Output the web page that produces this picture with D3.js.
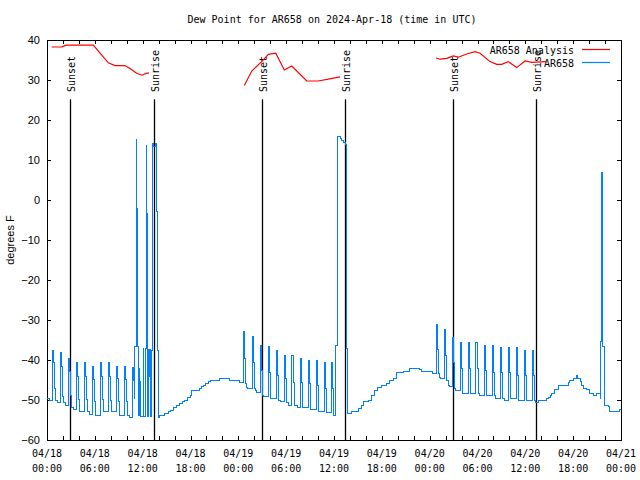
<!DOCTYPE html>
<html><head><meta charset="utf-8">
<script src="https://cdn.jsdelivr.net/npm/d3@7"></script>
<style>body{margin:0;background:#fff}svg{display:block}</style>
</head><body>
<script>
const titleText = "Dew Point for AR658 on 2024-Apr-18 (time in UTC)";
const yLabelText = "degrees F";
const yTicks = [40,30,20,10,0,-10,-20,-30,-40,-50,-60];
const xLabelHours = [0,6,12,18,24,30,36,42,48,54,60,66,72];
const xLabelDates = ["04/18","04/18","04/18","04/18","04/19","04/19","04/19","04/19","04/20","04/20","04/20","04/20","04/21"];
const xLabelTimes = ["00:00","06:00","12:00","18:00","00:00","06:00","12:00","18:00","00:00","06:00","12:00","18:00","00:00"];
const sunHours = [2.93,13.46,27.0,37.42,50.97,61.38];
const sunLabels = ["Sunset","Sunrise","Sunset","Sunrise","Sunset","Sunrise"];
const legendNames = ["AR658 Analysis","AR658"];

// hours since 2024-04-18 00:00 UTC, value in deg F
const analysisDay1 = [[0.59,38.25],[1.84,38.3],[2.47,38.7],[5.81,38.7],[7.69,34.3],[8.53,33.6],[9.78,33.6],[10.41,32.9],[11.25,31.7],[11.88,31.2],[12.51,31.7],[12.79,31.7]];
const analysisDay2 = [[24.75,28.6],[25.68,32.25],[26.93,34.6],[27.76,36.4],[28.69,36.7],[29.77,32.5],[30.7,33.5],[32.58,29.75],[34.03,29.75],[35.29,30.2],[36.75,30.8]];
const analysisDay3 = [[48.8,35.5],[49.3,35.2],[50.14,35.4],[50.97,36],[51.6,35.7],[52.65,36.5],[53.69,37.1],[54.32,36.7],[55.57,34.6],[56.41,33.9],[57.04,33.9],[57.86,34.6],[58.92,33.1],[59.96,34.75],[60.8,34.4],[62.6,34.6]];

const dewPoint = [
[0,-49.6],[0.3,-50],
[0.67,-37.5],[0.8,-40.7],[0.95,-47.1],[1.1,-50],[1.3,-50.6],
[1.67,-38.2],[1.8,-41.5],[1.95,-49.2],[2.1,-50.6],[2.3,-51.25],
[2.68,-39.6],[2.81,-42.75],[2.95,-48.75],[3.1,-51.8],[3.3,-52.3],
[3.64,-40.7],[3.77,-44],[3.9,-49.8],[4.05,-52.9],
[4.68,-40.7],[4.81,-44],[4.95,-49.8],[5.1,-52.9],[5.3,-53.6],
[5.69,-41.5],[5.82,-44.8],[5.95,-50.4],[6.1,-53.75],
[6.69,-40.7],[6.82,-44],[6.95,-49.8],[7.1,-52.9],
[7.69,-40.7],[7.82,-44],[7.95,-50],[8.1,-52.9],
[8.7,-41.5],[8.83,-44.7],[8.96,-50.4],[9.1,-53.75],
[9.7,-41.5],[9.83,-44.8],[9.96,-50.4],[10.1,-53.75],[10.3,-54.3],
[10.7,-41.9],[10.83,-45],[10.93,-49.6],[11.0,-36.7],[11.18,15.25],[11.25,-2.1],[11.32,-36.7],[11.45,-53.75],
[11.58,-42],[11.66,-45.4],[11.75,-54.2],
[12.05,-37],[12.12,-54.2],
[12.3,-37],[12.42,13.75],[12.49,-3.3],[12.56,-37],[12.63,-54.2],
[12.72,-37.3],[12.8,-44],[12.88,-37.3],[12.98,-54],
[13.12,-37.5],[13.22,14.2],[13.35,13.3],[13.62,14.2],[13.7,-2.9],[13.8,-37.5],[13.95,-54.3],
[14.17,-53.75],[14.7,-53.3],[15.2,-52.9],[15.5,-52.5],[15.85,-51.8],[16.3,-51.25],[16.68,-50.8],[17.0,-50.4],[17.31,-50],[17.6,-49.4],[17.94,-48.75],[18.15,-47.5],[19.19,-47.1],[19.4,-46.7],[19.61,-46.25],[19.9,-45.8],[20.2,-45.4],[20.45,-45],[21.7,-44.6],[22.9,-45],[24.2,-45.7],
[24.63,-32.9],[24.76,-39.6],[24.9,-45.8],[25.05,-46.8],[25.2,-47.1],
[25.72,-34.2],[25.85,-40.7],[25.98,-47.1],[26.1,-47.5],[26.3,-48.2],
[26.76,-36.25],[26.89,-42.5],[27.02,-48.75],[27.15,-49.2],
[27.77,-36.7],[27.9,-43.2],[28.03,-49.6],
[28.77,-37.5],[28.9,-43.75],[29.03,-50],[29.3,-50.4],
[29.73,-38.75],[29.86,-44.6],[29.99,-50.7],[30.3,-51.25],
[30.73,-38.75],[30.86,-45.7],[30.99,-51.25],[31.4,-51.8],
[31.78,-39.6],[31.91,-45.7],[32.04,-51.8],
[32.78,-40],[32.91,-45.8],[33.04,-52.3],
[33.78,-40],[33.91,-46.25],[34.04,-52.75],
[34.83,-40.7],[34.96,-47.1],[35.09,-53.2],
[35.71,-40.7],[35.84,-47.1],[35.97,-53.75],
[36.25,-36.25],[36.38,-2],[36.45,15.8],[36.85,15.3],[37.0,14.8],[37.15,14.3],[37.45,14.0],[37.55,-1.5],[37.62,-37.1],[37.75,-53.3],
[38.2,-52.9],[39.05,-52.1],[39.4,-51.25],[39.68,-50.4],[40.31,-50],[40.7,-48.75],[41.14,-47.5],[41.5,-46.9],[41.98,-46.25],[42.61,-45.8],[43.0,-45.2],[43.44,-44.6],[43.86,-43.2],[44.69,-42.9],[45.53,-42.1],[46.7,-42.3],[47.0,-42.75],[48.4,-43.3],
[48.8,-31],[48.93,-37.3],[49.06,-43.3],[49.2,-44.4],[49.4,-44.6],
[49.8,-32.3],[49.93,-38.75],[50.06,-45],[50.3,-46.25],[50.5,-46.7],
[50.84,-34.3],[50.97,-40.7],[51.1,-47.1],[51.3,-47.5],
[51.81,-35.6],[51.94,-42.1],[52.07,-48.3],
[52.85,-35.6],[52.98,-42.1],[53.11,-48.3],
[53.81,-35.6],[53.94,-42.1],[54.07,-48.3],[54.3,-48.75],
[54.85,-36.25],[54.98,-42.5],[55.11,-48.9],
[55.86,-36.25],[55.99,-43.2],[56.12,-48.9],[56.3,-49.6],
[56.86,-36.8],[56.99,-43.2],[57.12,-49.6],[57.4,-50],
[57.86,-36.8],[57.99,-43.2],[58.12,-49.6],
[58.87,-36.8],[59.0,-43.75],[59.13,-50],
[59.87,-37.5],[60.0,-43.75],[60.13,-50],
[60.88,-37.5],[61.01,-43.75],[61.14,-50],[61.3,-50.7],[61.63,-50],
[62.6,-49.6],[62.89,-49.3],[63.1,-48.75],[63.31,-48.3],[63.7,-47.3],[64.14,-46.25],[65.4,-45.6],[65.6,-45],[66.02,-44.6],[66.44,-43.75],[66.6,-44.6],[66.86,-45.4],[67.1,-46.25],[67.27,-47.1],[67.7,-47.3],[68.11,-48.3],[68.5,-48.75],[68.95,-48.3],[69.37,-49.6],
[69.45,-35.4],[69.55,7],[69.62,-7.5],[69.7,-36.7],[69.99,-51.25],[70.41,-51.5],[70.62,-52.9],[71.46,-52.9],[71.87,-52.3],[72,-52.3]
];

const W = 640, H = 480;
const margin = {left:47, right:19, top:40, bottom:40};
const t0 = Date.UTC(2024,3,18);
const toDate = h => new Date(t0 + h*3600e3);

const svg = d3.select("body").append("svg").attr("width",W).attr("height",H);
const x = d3.scaleUtc().domain([toDate(0), toDate(72)]).range([margin.left, W - margin.right]);
const y = d3.scaleLinear().domain([-60, 40]).range([H - margin.bottom, margin.top]);

const mono = "'DejaVu Sans Mono','Liberation Mono',monospace";
const sans = "'Liberation Sans',Arial,sans-serif";

// title
svg.append("text").attr("x", 332).attr("y", 23).attr("text-anchor","middle")
  .style("font-family", mono).style("font-size","10px").text(titleText);

// y label
svg.append("text").attr("transform", `translate(14,${(y(40)+y(-60))/2}) rotate(-90)`)
  .attr("text-anchor","middle").style("font-family", sans).style("font-size","11px").text(yLabelText);

// axes (inward ticks)
const tickHours = d3.range(0, 73, 2).map(toDate);
const gx = svg.append("g").attr("transform",`translate(0,${y(-60)})`)
  .call(d3.axisBottom(x).tickValues(tickHours).tickSizeInner(-4).tickSizeOuter(0).tickFormat(""));
const gxt = svg.append("g").attr("transform",`translate(0,${y(40)})`)
  .call(d3.axisTop(x).tickValues(tickHours).tickSizeInner(-4).tickSizeOuter(0).tickFormat(""));
const gy = svg.append("g").attr("transform",`translate(${x(toDate(0))},0)`)
  .call(d3.axisLeft(y).tickValues(yTicks).tickSizeInner(-4).tickSizeOuter(0).tickPadding(7).tickFormat(d3.format("d")));
const gyr = svg.append("g").attr("transform",`translate(${x(toDate(72))},0)`)
  .call(d3.axisRight(y).tickValues(yTicks).tickSizeInner(-4).tickSizeOuter(0).tickFormat(""));
[gx,gxt,gy,gyr].forEach(g => {
  g.select(".domain").remove();
  g.selectAll(".tick line").attr("stroke","#000").attr("shape-rendering","crispEdges");
});
gy.selectAll(".tick text").style("font-family", sans).style("font-size","11px").attr("fill","#000");

// frame
svg.append("rect").attr("x", x(toDate(0))).attr("y", y(40))
  .attr("width", x(toDate(72)) - x(toDate(0))).attr("height", y(-60) - y(40))
  .attr("fill","none").attr("stroke","#000").attr("shape-rendering","crispEdges");

// x labels
const xl = svg.append("g").selectAll("text").data(xLabelHours).join("text")
  .attr("x", h => x(toDate(h))).attr("text-anchor","middle")
  .style("font-family", mono).style("font-size","10px");
xl.append("tspan").attr("x", h => x(toDate(h))).attr("y", 457).text((h,i) => xLabelDates[i]);
xl.append("tspan").attr("x", h => x(toDate(h))).attr("y", 472).text((h,i) => xLabelTimes[i]);

// sunrise / sunset
const sun = svg.append("g");
sun.selectAll("line").data(sunHours).join("line")
  .attr("x1", h => Math.round(x(toDate(h)))+0.5).attr("x2", h => Math.round(x(toDate(h)))+0.5)
  .attr("y1", y(25.2)).attr("y2", y(-60))
  .attr("stroke","#000").attr("stroke-width",1.3);
sun.selectAll("text").data(sunHours).join("text")
  .attr("transform", h => `translate(${Math.round(x(toDate(h)))+5},${y(27)}) rotate(-90)`)
  .style("font-family", mono).style("font-size","10px").text((h,i) => sunLabels[i]);

// data lines
const lineLin = d3.line().x(d => x(toDate(d[0]))).y(d => y(d[1]));
const lineStep = d3.line().x(d => x(toDate(d[0]))).y(d => y(d[1])).curve(d3.curveStepAfter);
svg.append("path").datum(dewPoint).attr("d", lineStep)
  .attr("fill","none").attr("stroke","#0080ff").attr("stroke-width",1).attr("shape-rendering","crispEdges");
[analysisDay1, analysisDay2, analysisDay3].forEach(seg => {
  svg.append("path").datum(seg).attr("d", lineLin)
    .attr("fill","none").attr("stroke","#ff0000").attr("stroke-width",1.2);
});

// legend
const legColors = ["#ff0000","#0080ff"];
const leg = svg.append("g");
legendNames.forEach((name,i) => {
  const ly = 49.5 + i*13;
  leg.append("text").attr("x", 574).attr("y", ly + 4).attr("text-anchor","end")
    .style("font-family", mono).style("font-size","10px").text(name);
  leg.append("line").attr("x1", 582).attr("x2", 610).attr("y1", ly).attr("y2", ly)
    .attr("stroke", legColors[i]).attr("stroke-width",1.2);
});
</script>
</body></html>
